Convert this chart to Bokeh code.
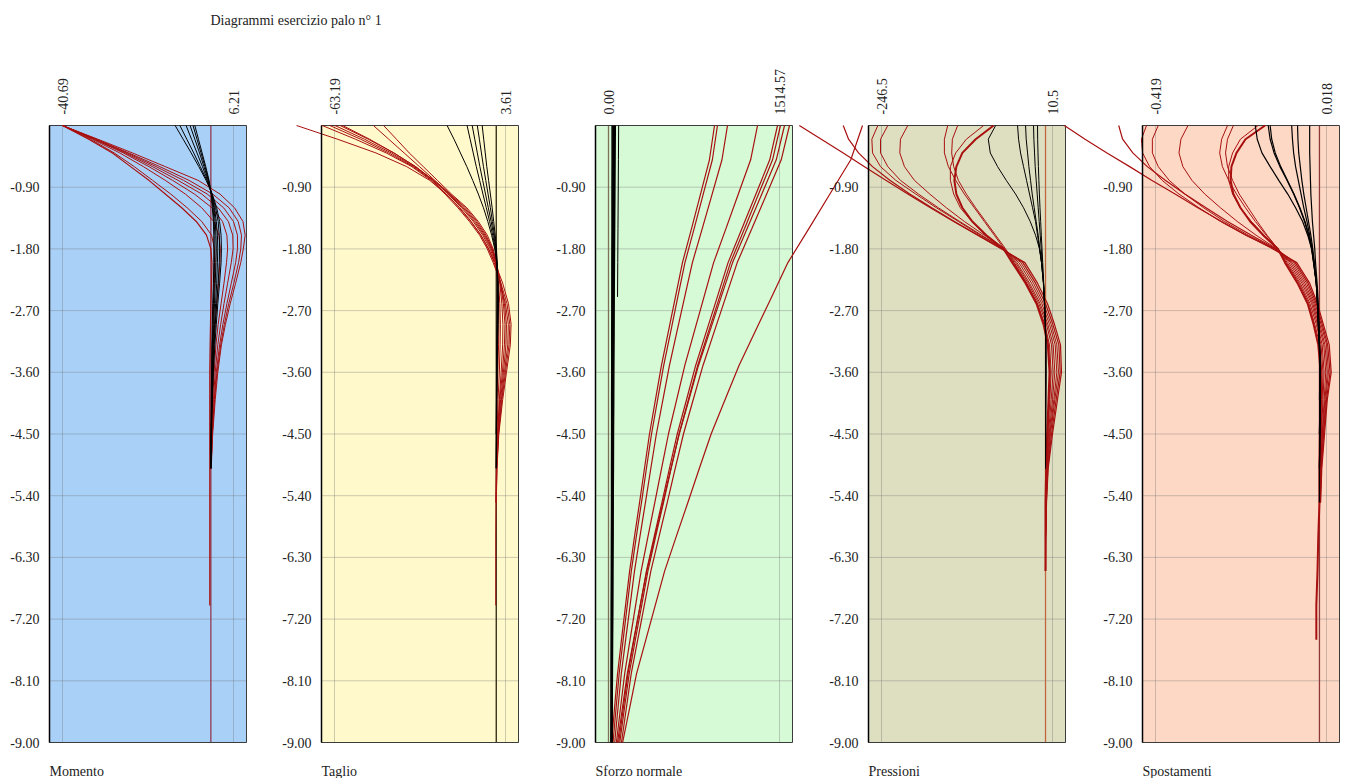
from bokeh.plotting import figure
from bokeh.models import Range1d, LinearAxis, FixedTicker, PrintfTickFormatter, Label
from bokeh.embed import file_html
from bokeh.resources import INLINE

# ---------------- data ----------------
TITLE = "Diagrammi esercizio palo n° 1"
PANEL_NAMES = ["Momento", "Taglio", "Sforzo normale", "Pressioni", "Spostamenti"]
TOP_MIN = [-40.69, -63.19, 0.00, -246.5, -0.419]
TOP_MAX = [6.21, 3.61, 1514.57, 10.5, 0.018]
TOP_FMT = ["%.2f", "%.2f", "%.2f", "%.1f", "%.3f"]
DEPTH_TICKS = [-0.9, -1.8, -2.7, -3.6, -4.5, -5.4, -6.3, -7.2, -8.1, -9.0]

# depth grid used by Momento, Taglio, Pressioni, Spostamenti
Z = [0.0, -0.2, -0.4, -0.6, -0.8, -1.0, -1.2, -1.4, -1.6, -1.8, -2.0, -2.3,
     -2.6, -2.9, -3.2, -3.6, -4.0, -4.5, -5.0, -5.5, -6.0, -6.5, -7.0, -7.5]
# depth grid used by Sforzo normale
Z3 = [0.0, -0.5, -1.0, -1.5, -2.0, -2.5, -3.0, -3.5, -4.0, -4.5, -5.0, -5.5,
      -6.0, -6.5, -7.0, -7.5, -8.0, -8.5, -9.0]

MOM_RED = [
    [-40.7, -33, -26.5, -21, -16, -11, -6.5, -2.5, 0.2, 1.0, 1.2, 1.0, 0.8, 0.6, 0.4, 0.3, 0.2, 0.1, 0.0],
    [-40.7, -32.5, -25, -18.5, -12.5, -7, -2.5, 0.8, 2.2, 2.6, 2.5, 2.1, 1.6, 1.2, 0.8, 0.5, 0.3, 0.1, 0.0],
    [-40.7, -32, -24, -17, -10.5, -4.5, 0.3, 3.2, 4.4, 4.6, 4.3, 3.6, 2.8, 2.0, 1.4, 0.9, 0.5, 0.2, 0.0],
    [-40.7, -32, -23.5, -16, -9, -2.5, 2.0, 4.8, 6.0, 6.1, 5.6, 4.6, 3.6, 2.7, 1.9, 1.2, 0.7, 0.3, 0.0],
    [-40.7, -31.5, -23, -15, -7.5, -1.0, 3.5, 6.2, 7.3, 7.3, 6.8, 5.6, 4.4, 3.3, 2.4, 1.5, 0.9, 0.4, 0.05],
    [-40.7, -31.5, -22.5, -14, -6, 0.5, 5.0, 7.5, 8.4, 8.2, 7.6, 6.3, 4.9, 3.7, 2.7, 1.7, 1.0, 0.4, 0.05],
    [-40.7, -31, -21.5, -12.5, -3.5, 2.5, 6.5, 8.8, 9.4, 8.9, 8.2, 6.8, 5.3, 4.0, 2.9, 1.9, 1.2, 0.5, 0.1],
    [-40.7, -33.5, -27, -22, -17, -12.5, -8, -4, -1.2, 0.0, 0.3, 0.2, 0.0, -0.1, -0.2, -0.3, -0.3, -0.3,
     -0.3, -0.3, -0.3, -0.3, -0.3],
]
MOM_BLACK = [
    [-9.8, -7.6, -5.4, -3.3, -1.3, 0.4, 1.6, 2.4, 2.8, 2.9, 2.8, 2.4, 1.9, 1.5, 1.1, 0.7, 0.4, 0.2, 0.0],
    [-8.5, -6.6, -4.7, -2.9, -1.1, 0.3, 1.3, 2.0, 2.3, 2.4, 2.3, 2.0, 1.6, 1.2, 0.9, 0.6, 0.3, 0.1, 0.0],
    [-6.8, -5.3, -3.8, -2.3, -0.9, 0.2, 1.0, 1.5, 1.8, 1.9, 1.8, 1.6, 1.3, 1.0, 0.7, 0.5, 0.3, 0.1, 0.0],
    [-5.7, -4.4, -3.1, -1.9, -0.7, 0.2, 0.8, 1.2, 1.4, 1.5, 1.4, 1.2, 1.0, 0.8, 0.6, 0.4, 0.2, 0.1, 0.0],
    [-4.9, -3.8, -2.7, -1.6, -0.6, 0.1, 0.6, 0.9, 1.1, 1.1, 1.0, 0.9, 0.7, 0.6, 0.4, 0.3, 0.2, 0.1, 0.0],
    [-4.4, -3.4, -2.4, -1.4, -0.5, 0.1, 0.4, 0.7, 0.8, 0.8, 0.8, 0.7, 0.5, 0.4, 0.3, 0.2, 0.1, 0.05, 0.0],
]

TAG_RED = [
    [-78, -62, -47, -35, -26, -19.5, -14.5, -10, -6, -3, -0.5, 2.5, 4.8, 5.8, 5.5, 4.0, 2.5, 1.0, 0.3, 0.0],
    [-68, -55, -43, -33, -25.5, -20, -15, -10.5, -6.5, -3.5, -1.2, 1.8, 4.2, 5.3, 5.0, 3.6, 2.2, 0.9, 0.2, 0.0],
    [-65, -53, -42, -32.5, -25, -19.5, -14.2, -9.8, -6.0, -3.0, -0.8, 1.5, 3.6, 4.7, 4.5, 3.2, 2.0, 0.8, 0.2, 0.0],
    [-63, -51.5, -41, -32, -24.5, -18.8, -13.5, -9.0, -5.3, -2.4, -0.3, 1.8, 3.2, 4.0, 3.8, 2.8, 1.7, 0.7, 0.1, 0.0],
    [-61, -50, -40, -31.5, -24.5, -18.5, -13, -8.5, -4.8, -2.0, 0.0, 1.6, 2.8, 3.4, 3.2, 2.4, 1.4, 0.6, 0.1, 0.0],
    [-60, -49.5, -40, -31.5, -24.5, -18, -12.5, -8.0, -4.4, -1.7, 0.2, 1.4, 2.2, 2.6, 2.5, 1.9, 1.2, 0.5, 0.1, 0.0],
    [-48, -42, -36, -30, -24, -18, -12, -7.5, -4, -1.5, -0.1, 0.9, 1.4, 1.6, 1.5, 1.2, 0.7, 0.3, 0.0,
     -0.1, -0.2, -0.2, -0.2],
    [-44, -39, -34, -28.5, -23, -17.5, -11.5, -7.0, -3.5, -1.2, 0.0, 0.6, 0.9, 1.0, 0.9, 0.6, 0.3, 0.1, 0.0],
]
TAG_BLACK = [
    [-19.2, -16.5, -14, -11.5, -9.2, -7, -5, -3.3, -1.8, -0.6, 0.2, 0.7, 0.8, 0.7, 0.5, 0.3, 0.2, 0.1, 0.0],
    [-11.4, -10.2, -9.0, -7.8, -6.5, -5.2, -3.9, -2.6, -1.4, -0.4, 0.2, 0.6, 0.7, 0.6, 0.4, 0.3, 0.15, 0.05, 0.0],
    [-9.4, -8.4, -7.4, -6.4, -5.3, -4.2, -3.1, -2.0, -1.0, -0.2, 0.3, 0.6, 0.6, 0.5, 0.4, 0.2, 0.1, 0.05, 0.0],
    [-7.4, -6.6, -5.8, -5.0, -4.1, -3.2, -2.3, -1.5, -0.7, 0.0, 0.3, 0.5, 0.5, 0.4, 0.3, 0.2, 0.1, 0.0],
    [-5.5, -4.9, -4.3, -3.7, -3.0, -2.3, -1.6, -1.0, -0.4, 0.1, 0.3, 0.4, 0.4, 0.3, 0.2, 0.1, 0.05, 0.0],
]

NOR_RED = [
    [939, 894, 815, 736, 655, 593, 531, 469, 416, 363, 319, 275, 230, 187, 151, 115, 80, 53, 27],
    [965, 920, 839, 759, 677, 614, 552, 489, 435, 381, 336, 292, 246, 202, 166, 130, 94, 67, 40],
    [1054, 1005, 918, 831, 743, 675, 607, 540, 482, 424, 375, 327, 278, 230, 191, 152, 113, 84, 55],
    [1320, 1259, 1150, 1041, 931, 846, 761, 676, 604, 531, 470, 410, 349, 289, 240, 191, 143, 106, 70],
    [1497, 1428, 1306, 1183, 1059, 964, 868, 772, 691, 609, 540, 473, 404, 336, 281, 226, 172, 131, 90],
    [1523, 1453, 1329, 1206, 1080, 984, 887, 790, 708, 625, 555, 487, 417, 349, 294, 238, 183, 141, 100],
    [1559, 1486, 1358, 1229, 1099, 998, 898, 797, 712, 626, 553, 482, 410, 339, 281, 223, 166, 123, 80],
    [1603, 1530, 1401, 1271, 1140, 1039, 938, 837, 750, 664, 591, 520, 447, 375, 317, 259, 201, 158, 115],
    [2250, 2146, 1961, 1776, 1589, 1445, 1300, 1156, 1032, 909, 805, 703, 599, 497, 414, 331, 248, 187, 125],
]
NOR_BLACK = [
    [45, 44, 43, 42, 41, 40, 39, 38, 37, 36, 35, 34, 33, 32, 31, 30, 29, 28, 27],
    [58, 56, 54, 52, 50, 48, 47, 45, 44, 42, 41, 39, 38, 36, 35, 33, 32, 30, 29],
    [32, 32, 31, 31, 30, 30, 29, 29, 28, 28, 27, 27, 26, 26, 25, 25, 24, 24, 23],
    [90, 88, 86, 84, 82, 80],
]

PRE_RED = [
    [-370, -337, -304, -272, -240, -207, -173, -138, -102, -66, -31, -12, 3, 13.5, 22.5, 24, 18, 10.5, 4, 1.5, 0.5, 0],
    [-304, -296, -281, -260, -234, -204, -171, -137, -101, -65, -34, -15, 0, 11, 20, 22, 16, 9, 3.5, 1.2, 0],
    [-252, -261, -260, -248, -225, -195, -164, -131, -98, -63, -37, -18, -3, 8.5, 17, 19.5, 14, 7.5, 3, 1, 0],
    [-237, -248, -248, -237, -218, -191, -161, -129, -96, -63, -40, -21, -5.5, 6, 14.5, 17, 12.5, 6.5, 2.5, 1, 0],
    [-207, -218, -219, -212, -197, -174, -149, -122, -92, -62, -43, -24, -8, 3.5, 11.5, 14, 10.5, 5.5, 2, 0.8, 0],
    [-147, -152, -152, -146, -135, -122, -107, -92, -77, -62, -45, -26, -10, 1.5, 9, 11.5, 8.5, 4.5, 1.5, 0.5, 0],
    [-132, -140, -141, -138, -131, -119, -105, -90, -75, -60, -47, -28, -12, -1, 6, 8.5, 6.5, 3.5, 1.2, 0.4, 0],
    [-78, -105, -125, -134, -137, -134, -125, -110, -89, -63, -50, -30, -13.5, -3, 3.5, 6, 4.5, 2.5, 1, 0, 0, 0],
    [-93, -119, -135, -143, -143, -138, -128, -111, -90, -63, -48, -29, -12.5, -2, 4.5, 7, 5.5, 3, 1, 0.3, 0],
]
PRE_BLACK = [
    [-75, -86, -83, -72, -59, -45, -33, -23, -15, -9, -6, -3, -1.5, 0, 0.5, 0.5, 0.3, 0.1, 0],
    [-42, -40.5, -37.5, -33, -28.5, -24, -19.5, -15, -12, -9, -6, -3, -1.5, 0, 0.5, 0.5, 0.3, 0.1, 0],
    [-30, -29, -27, -25, -22.5, -20, -17, -14, -11, -8.5, -6, -3.2, -1.5, -0.3, 0.3, 0.4, 0.2, 0.1, 0],
    [-18, -17.5, -16.5, -15.5, -14, -12.5, -11, -9.5, -8, -6.5, -5, -3, -1.5, -0.3, 0.2, 0.3, 0.2, 0.1, 0],
    [-12, -11.8, -11.3, -10.7, -10, -9.2, -8.3, -7.3, -6.3, -5.2, -4.2, -2.7, -1.4, -0.3, 0.2, 0.2, 0.1, 0.05, 0],
]

SPO_RED = [
    [-0.652, -0.599, -0.543, -0.485, -0.429, -0.369, -0.311, -0.250, -0.187, -0.119, -0.058, -0.025,
     -0.005, 0.010, 0.025, 0.030, 0.020, 0.013, 0.006, 0.003],
    [-0.513, -0.503, -0.477, -0.440, -0.394, -0.344, -0.290, -0.235, -0.174, -0.111, -0.062, -0.029,
     -0.008, 0.007, 0.021, 0.027, 0.018, 0.011, 0.005, 0.002],
    [-0.442, -0.455, -0.452, -0.434, -0.402, -0.359, -0.308, -0.253, -0.189, -0.116, -0.066, -0.033,
     -0.011, 0.004, 0.018, 0.023, 0.016, 0.010, 0.004, 0.002],
    [-0.412, -0.427, -0.427, -0.412, -0.384, -0.344, -0.296, -0.243, -0.182, -0.114, -0.070, -0.037,
     -0.014, 0.001, 0.014, 0.020, 0.014, 0.008, 0.003, 0.001],
    [-0.336, -0.354, -0.359, -0.349, -0.326, -0.293, -0.253, -0.210, -0.162, -0.109, -0.074, -0.041,
     -0.017, -0.002, 0.011, 0.016, 0.012, 0.007, 0.003, 0.001],
    [-0.235, -0.250, -0.255, -0.248, -0.232, -0.212, -0.189, -0.164, -0.136, -0.106, -0.078, -0.045,
     -0.020, -0.005, 0.007, 0.012, 0.009, 0.005, 0.002, 0.0],
    [-0.220, -0.235, -0.240, -0.235, -0.222, -0.205, -0.182, -0.159, -0.134, -0.106, -0.082, -0.049,
     -0.024, -0.008, 0.004, 0.009, 0.007, 0.004, 0.001, 0.0],
    [-0.139, -0.189, -0.212, -0.225, -0.227, -0.220, -0.202, -0.177, -0.144, -0.106, -0.088, -0.056,
     -0.030, -0.015, -0.003, 0.003, 0.003, 0.001, 0.0, 0.0, -0.003, -0.005, -0.008, -0.008],
    [-0.157, -0.202, -0.222, -0.232, -0.232, -0.222, -0.202, -0.174, -0.141, -0.106, -0.085, -0.052,
     -0.027, -0.012, 0.001, 0.006, 0.005, 0.002, 0.001, 0.0],
]
SPO_BLACK = [
    [-0.164, -0.159, -0.147, -0.126, -0.104, -0.081, -0.061, -0.043, -0.030, -0.020, -0.015, -0.008,
     -0.005, -0.003, 0.0, 0.002, 0.002, 0.001, 0.0, 0.0],
    [-0.131, -0.126, -0.116, -0.101, -0.083, -0.066, -0.051, -0.038, -0.028, -0.020, -0.015, -0.008,
     -0.005, -0.003, 0.0, 0.002, 0.002, 0.001, 0.0],
    [-0.126, -0.122, -0.113, -0.099, -0.082, -0.065, -0.050, -0.037, -0.027, -0.019, -0.014, -0.008,
     -0.005, -0.003, 0.0, 0.002, 0.002, 0.001, 0.0],
    [-0.071, -0.069, -0.066, -0.061, -0.054, -0.047, -0.040, -0.032, -0.025, -0.019, -0.014, -0.008,
     -0.005, -0.002, 0.0, 0.001, 0.001, 0.0],
    [-0.056, -0.055, -0.053, -0.049, -0.045, -0.040, -0.034, -0.028, -0.022, -0.017, -0.013, -0.008,
     -0.004, -0.002, 0.0, 0.001, 0.001, 0.0],
    [-0.025, -0.025, -0.025, -0.024, -0.023, -0.022, -0.020, -0.018, -0.015, -0.012, -0.010, -0.006,
     -0.003, -0.001, 0.0, 0.001, 0.0],
]

REDS = [MOM_RED, TAG_RED, NOR_RED, PRE_RED, SPO_RED]
BLACKS = [MOM_BLACK, TAG_BLACK, NOR_BLACK, PRE_BLACK, SPO_BLACK]
GRIDS = [Z, Z, Z3, Z, Z]

# ---------------- style / layout (screen pixels) ----------------
FONT = "Liberation Serif"
W, H = 1345, 778
BOX_TOP, BOX_BOT = 125, 742          # pixel rows of depth 0 and -9
LEFTS = [49, 321, 595, 868, 1142]    # pixel column of each panel's left edge
BW, INS = 197, 13
BG = ["#a9d1f8", "#fff9cb", "#d6f9d6", "#dedfc1", "#fdd8c5"]
ZERO_COL = ["#8e3a52", "#2b2410", "#7d7258", "#c0663c", "#8e3a3a"]
RED = "#a8100f"
GRID_COL = "#6f6f6f"
RED_W = [[1]*7 + [1.2], [1]*8, [1.2]*9, [1.2, 1.2, 1, 1, 1, 1, 1, 2, 1], [1.2, 1.2, 1, 1, 1, 1, 1, 2, 1]]
BLACK_W = [[1]*6, [1]*5, [2.5, 2, 1.5, 1], [1]*5, [1.2]*6]

names = ["default", "p1", "p2", "p3", "p4"]

ys = (BOX_BOT - BOX_TOP) / 9.0        # pixels per metre of depth
y_top = BOX_TOP / ys                  # data value at canvas top
y_bot = -9 - (H - BOX_BOT) / ys       # data value at canvas bottom


def panel_geometry(i):
    lo, hi = TOP_MIN[i], TOP_MAX[i]
    px_lo = LEFTS[i] + INS
    px_hi = LEFTS[i] + BW - INS
    s = (px_hi - px_lo) / (hi - lo)
    start = lo - px_lo / s
    end = lo + (W - px_lo) / s
    return start, end, lo - INS / s, hi + INS / s, s


geo = [panel_geometry(i) for i in range(5)]

p = figure(width=W, height=H,
           x_range=Range1d(geo[0][0], geo[0][1]), y_range=Range1d(y_bot, y_top),
           x_axis_type=None, y_axis_type=None,
           toolbar_location=None, output_backend="svg",
           min_border=0, min_border_left=0, min_border_right=0,
           min_border_top=0, min_border_bottom=0,
           outline_line_color=None, background_fill_color="white",
           border_fill_color="white")
p.extra_x_ranges = {names[i]: Range1d(geo[i][0], geo[i][1]) for i in range(1, 5)}

for i in range(5):
    nm = names[i]
    start, end, bl, br, s = geo[i]
    lo, hi = TOP_MIN[i], TOP_MAX[i]
    n = len(DEPTH_TICKS)
    p.quad(left=[bl], right=[br], top=[0], bottom=[-9], x_range_name=nm,
           fill_color=BG[i], line_color=None, level="image")
    p.segment(x0=[bl] * n, x1=[br] * n, y0=DEPTH_TICKS, y1=DEPTH_TICKS, x_range_name=nm,
              line_color=GRID_COL, line_alpha=0.35, line_width=1, level="underlay")
    p.segment(x0=[lo, hi], x1=[lo, hi], y0=[0, 0], y1=[-9, -9], x_range_name=nm,
              line_color=GRID_COL, line_alpha=0.35, line_width=1, level="underlay")
    p.segment(x0=[0], x1=[0], y0=[0], y1=[-9], x_range_name=nm,
              line_color=ZERO_COL[i], line_width=1.3)
    p.quad(left=[bl], right=[br], top=[0], bottom=[-9], x_range_name=nm,
           fill_color=None, line_color="#3c3c3c", line_width=1)

    zg = GRIDS[i]
    for vals, w in zip(REDS[i], RED_W[i]):
        p.line(vals, zg[:len(vals)], x_range_name=nm, line_color=RED, line_width=w)
    for vals, w in zip(BLACKS[i], BLACK_W[i]):
        p.line(vals, zg[:len(vals)], x_range_name=nm, line_color="black", line_width=w)

    yax = LinearAxis(x_range_name=nm, fixed_location=bl, bounds=(-9, 0),
                     ticker=FixedTicker(ticks=DEPTH_TICKS),
                     formatter=PrintfTickFormatter(format="%.2f"),
                     axis_line_color="black", axis_line_width=1.5,
                     major_tick_line_color=None, minor_tick_line_color=None,
                     major_label_standoff=4,
                     major_label_text_font=FONT, major_label_text_font_size="14px",
                     major_label_text_color="#222222")
    p.add_layout(yax, "left")

    tax = LinearAxis(x_range_name=nm, fixed_location=0,
                     ticker=FixedTicker(ticks=[lo, hi]),
                     formatter=PrintfTickFormatter(format=TOP_FMT[i]),
                     major_label_orientation="vertical",
                     axis_line_color=None, major_tick_line_color=None,
                     minor_tick_line_color=None, major_label_standoff=5,
                     major_label_text_font=FONT, major_label_text_font_size="14px",
                     major_label_text_color="#222222")
    p.add_layout(tax, "above")

    p.add_layout(Label(x=bl, y=-9, x_range_name=nm, y_offset=-29,
                       text=PANEL_NAMES[i], text_font=FONT, text_font_size="14px",
                       text_color="#222222", text_baseline="alphabetic"))

title_x = geo[0][0] + 210 / geo[0][4]
title_y = (BOX_TOP - 20) / ys
p.add_layout(Label(x=title_x, y=title_y, text=TITLE, text_font=FONT,
                   text_font_size="14px", text_color="#222222",
                   text_baseline="alphabetic"))

open("out.html", "w").write(file_html(p, INLINE))
